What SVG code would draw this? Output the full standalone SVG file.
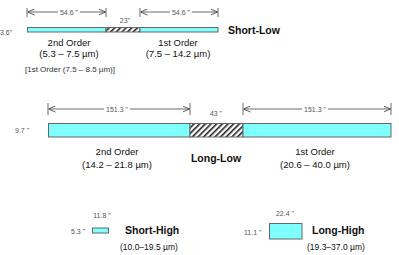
<svg xmlns="http://www.w3.org/2000/svg" width="399" height="255" viewBox="0 0 399 255">
<style>
text{font-family:"Liberation Sans",Arial,sans-serif;fill:#111}
.dim{font-size:7px;fill:#555}
.lbl{font-size:9.5px;text-anchor:middle}
.sm{font-size:8px;fill:#333}
.ttl{font-size:10.5px;font-weight:bold}
.bar{fill:#80ffff;stroke:#666;stroke-width:1}
.hat{fill:url(#h);stroke:#666;stroke-width:1}
.dl{stroke:#444;stroke-width:0.8;fill:none}
</style>
<defs>
<pattern id="h" width="4" height="4" patternUnits="userSpaceOnUse" patternTransform="rotate(45)">
<rect width="4" height="4" fill="#fff"/>
<rect width="1.6" height="4" fill="#222"/>
</pattern>
<marker id="a" viewBox="0 0 8 8" refX="8" refY="4" markerWidth="7" markerHeight="7" orient="auto-start-reverse" markerUnits="userSpaceOnUse">
<path d="M0,0.5 L8,4 L0,7.5" fill="none" stroke="#444" stroke-width="1"/>
</marker>
</defs>
<g id="connectors">
<line class="dl" x1="27" y1="8" x2="27" y2="17"/>
<line class="dl" x1="106" y1="8" x2="106" y2="17"/>
<line class="dl" x1="27.5" y1="12" x2="105.5" y2="12" marker-start="url(#a)" marker-end="url(#a)"/>
<line class="dl" x1="140" y1="8" x2="140" y2="17"/>
<line class="dl" x1="218" y1="8" x2="218" y2="17"/>
<line class="dl" x1="140.5" y1="12" x2="217.5" y2="12" marker-start="url(#a)" marker-end="url(#a)"/>
<line class="dl" x1="48" y1="103" x2="48" y2="115"/>
<line class="dl" x1="190" y1="103" x2="190" y2="115"/>
<line class="dl" x1="48.5" y1="109" x2="189.5" y2="109" marker-start="url(#a)" marker-end="url(#a)"/>
<line class="dl" x1="243" y1="103" x2="243" y2="115"/>
<line class="dl" x1="391" y1="103" x2="391" y2="115"/>
<line class="dl" x1="243.5" y1="109" x2="390.5" y2="109" marker-start="url(#a)" marker-end="url(#a)"/>
</g>
<g id="short-low">
<rect class="bar" x="27.5" y="27.5" width="78.5" height="4.5"/>
<rect class="hat" x="106" y="27.5" width="34" height="4.5"/>
<rect class="bar" x="140" y="27.5" width="78" height="4.5"/>
<rect x="58" y="9" width="22" height="6" fill="#fff"/>
<text class="dim" x="69" y="14.5" text-anchor="middle">54.6 "</text>
<rect x="170" y="9" width="22" height="6" fill="#fff"/>
<text class="dim" x="181" y="14.5" text-anchor="middle">54.6 "</text>
<text class="dim" x="125" y="22.5" text-anchor="middle">23"</text>
<text class="dim" x="0" y="34.5">3.6"</text>
<text class="ttl" x="228" y="33.5">Short-Low</text>
<text class="lbl" x="69" y="46">2nd Order</text>
<text class="lbl" x="69" y="56.5">(5.3 – 7.5 µm)</text>
<text class="sm" x="25" y="72">[1st Order (7.5 – 8.5 µm)]</text>
<text class="lbl" x="178" y="46">1st Order</text>
<text class="lbl" x="178" y="56.5">(7.5 – 14.2 µm)</text>
</g>
<g id="long-low">
<rect class="bar" x="48.5" y="123.5" width="141.5" height="13.5"/>
<rect class="hat" x="190" y="123.5" width="53" height="13.5"/>
<rect class="bar" x="243" y="123.5" width="148" height="13.5"/>
<rect x="104" y="106" width="26" height="6" fill="#fff"/>
<text class="dim" x="117" y="111.5" text-anchor="middle">151.3 "</text>
<rect x="302" y="106" width="26" height="6" fill="#fff"/>
<text class="dim" x="315" y="111.5" text-anchor="middle">151.3 "</text>
<text class="dim" x="216" y="116" text-anchor="middle">43 "</text>
<text class="dim" x="15" y="133">9.7 "</text>
<text class="lbl" x="117" y="155">2nd Order</text>
<text class="lbl" x="117" y="168">(14.2 – 21.8 µm)</text>
<text class="ttl" x="216" y="162" text-anchor="middle">Long-Low</text>
<text class="lbl" x="315" y="155">1st Order</text>
<text class="lbl" x="315" y="168">(20.6 – 40.0 µm)</text>
</g>
<g id="short-high">
<rect class="bar" x="92.5" y="228" width="16" height="5"/>
<text class="dim" x="102" y="218" text-anchor="middle">11.8 "</text>
<text class="dim" x="71" y="234">5.3 "</text>
<text class="ttl" x="125" y="233.5">Short-High</text>
<text class="sm" x="120" y="249.5" style="font-size:8.5px;fill:#111">(10.0–19.5 µm)</text>
</g>
<g id="long-high">
<rect class="bar" x="269.5" y="223.5" width="32.5" height="15.5"/>
<text class="dim" x="285" y="215.5" text-anchor="middle">22.4 "</text>
<text class="dim" x="244" y="235">11.1 "</text>
<text class="ttl" x="312" y="233.5">Long-High</text>
<text class="sm" x="307" y="249.5" style="font-size:8.5px;fill:#111">(19.3–37.0 µm)</text>
</g>
</svg>
